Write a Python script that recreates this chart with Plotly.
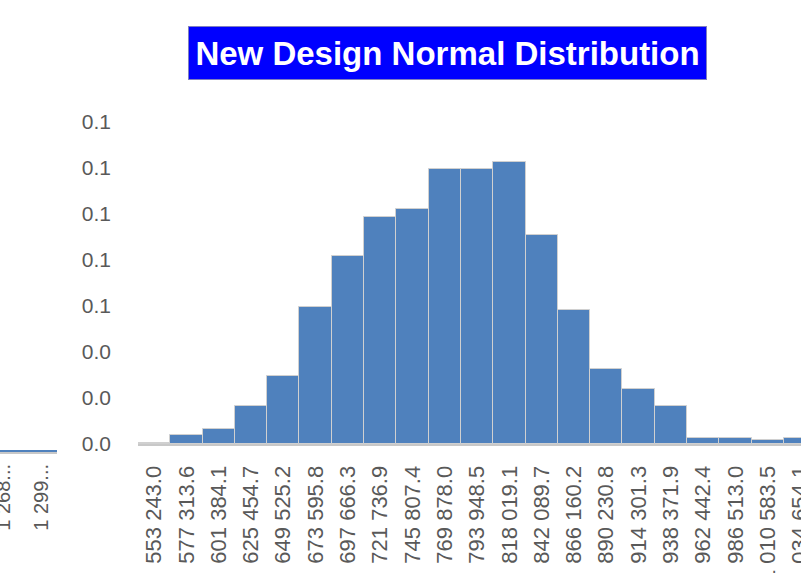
import plotly.graph_objects as go

# Main histogram categories (bin labels) and relative frequencies
bins = ["553 243.0", "577 313.6", "601 384.1", "625 454.7", "649 525.2",
        "673 595.8", "697 666.3", "721 736.9", "745 807.4", "769 878.0",
        "793 948.5", "818 019.1", "842 089.7", "866 160.2", "890 230.8",
        "914 301.3", "938 371.9", "962 442.4", "986 513.0", "1 010 583.5",
        "1 034 654.1"]
freq = [0.0004, 0.0038, 0.0065, 0.0165, 0.0296,
        0.0596, 0.0817, 0.0986, 0.1023, 0.1197,
        0.1197, 0.1225, 0.0907, 0.0583, 0.0327,
        0.0238, 0.0165, 0.0025, 0.0025, 0.0017,
        0.0025]

# Partially visible neighbouring chart on the left
left_bins = ["1 268...", "1 299..."]
left_freq = [0.004, 0.004]

y_ticks = [0, 0.02, 0.04, 0.06, 0.08, 0.10, 0.12, 0.14]

BAR = "#4F81BD"
GREY = "#595959"
FONT = "Liberation Sans"

W, H = 801, 573

fig = go.Figure()
fig.add_trace(go.Bar(
    x=bins, y=freq, marker=dict(color=BAR, line=dict(color="#d0d0d0", width=1)),
    xaxis="x", yaxis="y", showlegend=False, hoverinfo="skip"))
fig.add_trace(go.Bar(
    x=left_bins, y=left_freq, marker=dict(color=BAR, line=dict(color=BAR, width=0)),
    xaxis="x2", yaxis="y2", showlegend=False, hoverinfo="skip"))

fig.update_layout(
    width=W, height=H,
    margin=dict(l=0, r=0, t=0, b=0, autoexpand=False),
    paper_bgcolor="white", plot_bgcolor="white",
    bargap=0,
    font=dict(family=FONT, color=GREY),
    xaxis=dict(domain=[138 / W, 1], type="category", range=[-0.5, 20.03],
               tickangle=-90, tickfont=dict(size=22, color=GREY, family=FONT),
               showline=True, linecolor="#c8c8c8", linewidth=2,
               showgrid=False, ticks="", ticklabelstandoff=11, anchor="y",
               automargin=False),
    yaxis=dict(domain=[(H - 444) / H, (H - 114) / H], range=[0, 0.1435],
               tickvals=y_ticks, tickformat=".1f",
               tickfont=dict(size=21, color=GREY, family=FONT),
               showline=False, showgrid=False, zeroline=False, ticks="",
               ticklabelstandoff=26, anchor="x", automargin=False),
    xaxis2=dict(domain=[0, 57 / W], type="category", range=[-0.105, 1.395],
                tickangle=-90, tickfont=dict(size=20, color=GREY, family=FONT),
                showline=True, linecolor="#c8c8c8", linewidth=2,
                showgrid=False, ticks="", ticklabelstandoff=2, anchor="y2",
                automargin=False),
    yaxis2=dict(domain=[(H - 452) / H, (H - 114) / H], range=[0, 1],
                showticklabels=False, showline=False, showgrid=False,
                zeroline=False, ticks="", anchor="x2", automargin=False),
    annotations=[dict(
        text="<b>New Design Normal Distribution</b>",
        x=447 / W, y=(H - 53) / H, xref="paper", yref="paper",
        showarrow=False, font=dict(size=33, color="white", family=FONT),
        bgcolor="#0000FF", bordercolor="#8080c0", borderwidth=1, borderpad=4,
        width=509, height=44,
        xanchor="center", yanchor="middle")],
)

fig.write_html("out.html",
               config={"displayModeBar": False},
               post_script="document.body.style.margin='0';"
                           "document.body.style.overflow='hidden';")
